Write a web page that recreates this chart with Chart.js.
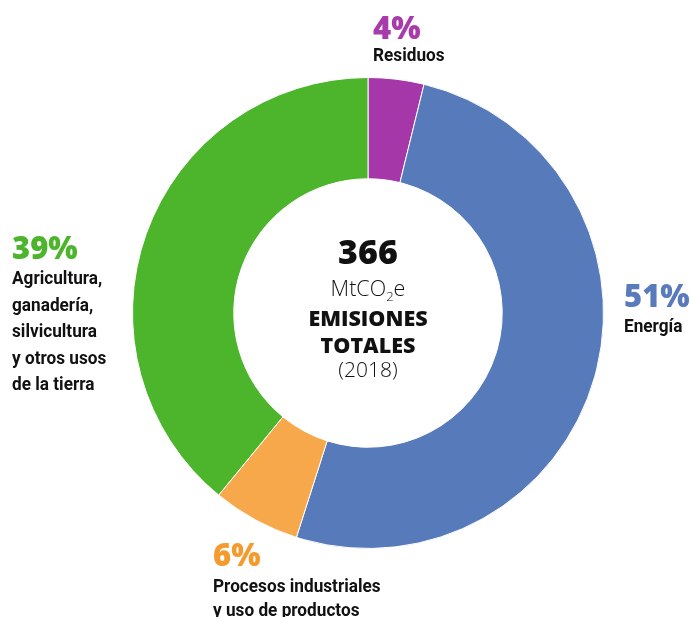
<!DOCTYPE html>
<html>
<head>
<meta charset="utf-8">
<script src="https://cdn.jsdelivr.net/npm/chart.js@4"></script>
<style>
  html, body { margin: 0; padding: 0; background: #fff; }
  #wrap { position: relative; width: 694px; height: 617px; overflow: hidden; }
  #chart { position: absolute; left: 0; top: 0; }
  .t { position: absolute; white-space: nowrap; line-height: 1; }
  .c { transform: translateX(-50%); text-align: center; }
</style>
</head>
<body>
<div id="wrap">
  <canvas id="chart" width="694" height="617"></canvas>
</div>
<script>
// emisiones por sector, MtCO2e (2018)
const sectors = ['Residuos', 'Energía', 'Procesos industriales y uso de productos', 'Agricultura, ganadería, silvicultura y otros usos de la tierra'];
const values = [14, 187, 22, 143];
const colors = ['#A537A9', '#577BBA', '#F7A84A', '#4CB52B'];
const pctLabels = ['4%', '51%', '6%', '39%'];
const pctColors = ['#A83AAB', '#5A7BBB', '#F59A2C', '#4CB52B'];
const labelLines = [['Residuos'], ['Energía'], ['Procesos industriales', 'y uso de productos'], ['Agricultura,', 'ganadería,', 'silvicultura', 'y otros usos', 'de la tierra']];
const total = 366;

const wrap = document.getElementById('wrap');

// place one line of text by its baseline
function place(text, x, baseline, opts) {
    const d = document.createElement('div');
    d.className = 't' + (opts.center ? ' c' : '');
    const size = opts.size;
    const asc = opts.family === 'Roboto' ? 0.842 : 0.888;
    d.style.left = x + 'px';
    d.style.top = (baseline - asc * size) + 'px';
    d.style.fontFamily = opts.family === 'Roboto' ? 'Roboto, sans-serif' : '"Open Sans", sans-serif';
    d.style.fontSize = size + 'px';
    d.style.fontWeight = opts.weight;
    d.style.color = opts.color || '#111';
    if (opts.scale) {
        d.style.transform = (opts.center ? 'translateX(-50%) ' : '') + 'scaleX(' + opts.scale + ')';
        d.style.transformOrigin = 'left';
    }
    if (opts.html) d.innerHTML = text; else d.textContent = text;
    wrap.appendChild(d);
}

// percentage + label positions for each sector
const labelPos = [
    { x: 373, pct: 40, first: 62, gap: 26.5 },
    { x: 624, pct: 308, first: 333, gap: 26.5 },
    { x: 213, pct: 567, first: 593, gap: 24 },
    { x: 12, pct: 260, first: 285, gap: 26.5 }
];

labelPos.forEach((p, i) => {
    place(pctLabels[i], p.x, p.pct, { size: 31, weight: 800, color: pctColors[i] });
    labelLines[i].forEach((line, j) => {
        place(line, p.x, p.first + j * p.gap, { size: 18.5, weight: 700, family: 'Roboto', scale: 0.93 });
    });
});

// centre text
place(String(total), 368, 264, { size: 34, weight: 800, center: true });
place('MtCO<span style="font-size:13px;position:relative;top:5px">2</span>e', 368, 296.5, { size: 21.5, weight: 300, center: true, html: true });
place('EMISIONES', 368, 326.5, { size: 21.5, weight: 800, center: true });
place('TOTALES', 368, 353, { size: 21.5, weight: 800, center: true });
place('(2018)', 368, 378, { size: 21, weight: 300, center: true });

const ctx = document.getElementById('chart').getContext('2d');
new Chart(ctx, {
    type: 'doughnut',
    data: {
        labels: sectors,
        datasets: [{
            data: values,
            backgroundColor: colors,
            borderColor: '#fff',
            borderWidth: 1,
            hoverOffset: 0,
            offset: 0
        }]
    },
    options: {
        responsive: false,
        animation: false,
        cutout: '57%',
        layout: {
            padding: { left: 132, right: 90, top: 77, bottom: 68 }
        },
        plugins: {
            legend: { display: false },
            tooltip: { enabled: false }
        }
    }
});
</script>
</body>
</html>
